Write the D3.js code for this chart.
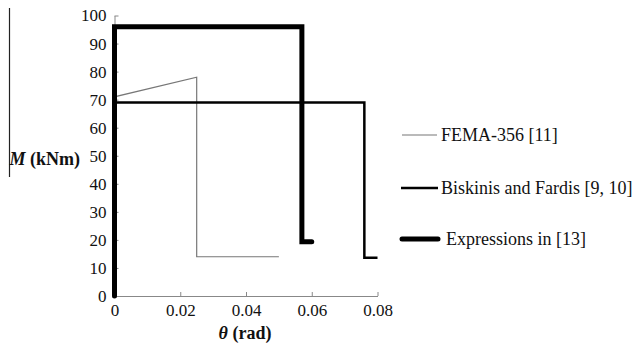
<!DOCTYPE html>
<html><head><meta charset="utf-8">
<script src="https://cdn.jsdelivr.net/npm/d3@7"></script>
<style>body{margin:0;background:#fff}svg{display:block}</style>
</head><body>
<svg id="c" width="638" height="350"></svg>
<script>
const xTicks = [0, 0.02, 0.04, 0.06, 0.08];
const yTicks = [0, 10, 20, 30, 40, 50, 60, 70, 80, 90, 100];
const seriesNames = ["FEMA-356 [11]", "Biskinis and Fardis [9, 10]", "Expressions in [13]"];
const femaTheta = [0, 0, 0.025, 0.025, 0.05];
const femaM = [0, 71, 78, 14, 14];
const biskinisTheta = [0, 0, 0.076, 0.076, 0.08];
const biskinisM = [0, 69, 69, 13.6, 13.6];
const exprTheta = [0, 0, 0.057, 0.057, 0.06];
const exprM = [0, 96, 96, 19.3, 19.3];

const FONT = "'Liberation Serif'";
const svg = d3.select("#c");
const x = d3.scaleLinear().domain([0, 0.08]).range([114.5, 377.5]);
const y = d3.scaleLinear().domain([0, 100]).range([296, 15.5]);

svg.append("line").attr("x1", 9.5).attr("x2", 9.5).attr("y1", 8).attr("y2", 177).attr("stroke", "#222").attr("stroke-width", 1.2);

const xAx = svg.append("g").attr("transform", `translate(0,${y(0)})`)
  .call(d3.axisBottom(x).tickValues(xTicks).tickSizeInner(-4).tickSizeOuter(0).tickFormat(d => d === 0 ? "0" : d3.format(".2f")(d)));
const yAx = svg.append("g").attr("transform", `translate(${x(0)},0)`)
  .call(d3.axisLeft(y).tickValues(yTicks).tickSizeInner(-4).tickSizeOuter(0));
[xAx, yAx].forEach(g => {
  g.attr("font-family", null).attr("font-size", null);
  g.select(".domain").attr("stroke", "#888");
  g.selectAll(".tick line").attr("stroke", "#888");
  g.selectAll(".tick text").style("font-family", FONT).style("font-size", "17px").attr("fill", "#111");
});
xAx.selectAll(".tick text").attr("dy", "0").attr("y", 20);
yAx.selectAll(".tick text").attr("x", -8);

const line = d3.line().x(d => x(d[0])).y(d => y(d[1]));
const series = [
  {pts: d3.zip(femaTheta, femaM), color: "#777", w: 1.2, cap: "butt"},
  {pts: d3.zip(biskinisTheta, biskinisM), color: "#000", w: 2.5, cap: "butt"},
  {pts: d3.zip(exprTheta, exprM), color: "#000", w: 5, cap: "round"}
];
series.forEach(s => {
  svg.append("path").attr("d", line(s.pts)).attr("fill", "none").attr("stroke", s.color)
    .attr("stroke-width", s.w).attr("stroke-linecap", s.cap).attr("stroke-linejoin", "miter");
});

const tx = svg.append("text").attr("x", 245).attr("y", 339).attr("text-anchor", "middle")
  .style("font-family", FONT).style("font-size", "18px").style("font-weight", "bold").attr("fill", "#111");
tx.append("tspan").style("font-style", "italic").text("θ");
tx.append("tspan").text(" (rad)");
const ty = svg.append("text").attr("x", 80).attr("y", 165).attr("text-anchor", "end")
  .style("font-family", FONT).style("font-size", "18px").style("font-weight", "bold").attr("fill", "#111");
ty.append("tspan").style("font-style", "italic").text("M");
ty.append("tspan").text(" (kNm)");

const legY = [135, 188, 239];
const legX1 = [402, 401, 402], legX2 = [437, 438, 438], legTx = [441, 441, 446];
series.forEach((s, i) => {
  svg.append("line").attr("x1", legX1[i]).attr("x2", legX2[i]).attr("y1", legY[i]).attr("y2", legY[i])
    .attr("stroke", s.color).attr("stroke-width", s.w).attr("stroke-linecap", s.cap);
  svg.append("text").attr("x", legTx[i]).attr("y", legY[i] + 6)
    .style("font-family", FONT).style("font-size", "18px").attr("fill", "#111").text(seriesNames[i]);
});
</script>
</body></html>
